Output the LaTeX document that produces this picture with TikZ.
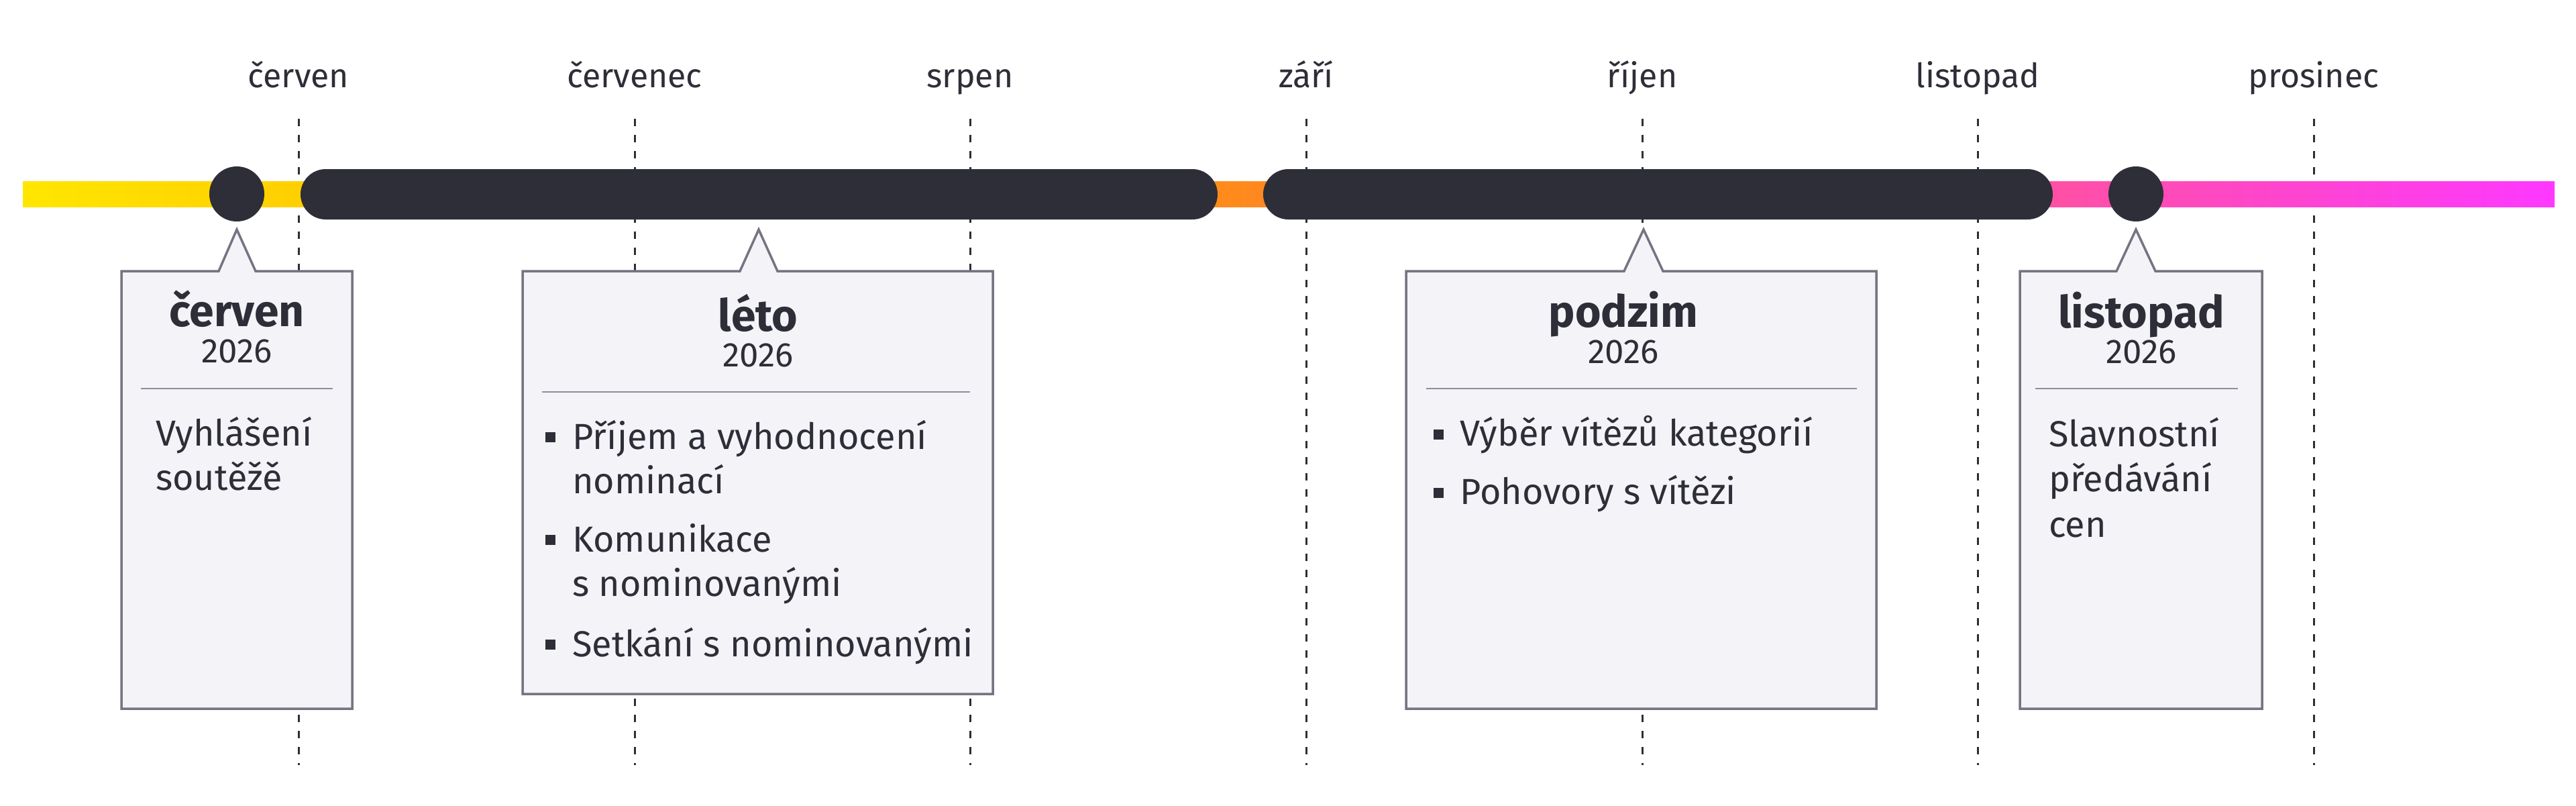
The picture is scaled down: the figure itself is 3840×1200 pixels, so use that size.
\documentclass[tikz,border=0pt]{standalone}
\usepackage{fontspec}
\setmainfont{Fira Sans}
\definecolor{ink}{HTML}{2E2E38}
\definecolor{boxfill}{HTML}{F4F4F8}
\definecolor{boxline}{HTML}{747482}
\definecolor{rulecol}{HTML}{8E8E9A}
\definecolor{gy}{HTML}{FFE600}
\definecolor{gy2}{HTML}{FFCF00}
\definecolor{go}{HTML}{FF8A1C}
\definecolor{gp}{HTML}{FF4FA8}
\definecolor{gm}{HTML}{FF38FF}
\pgfdeclarehorizontalshading{tlgrad}{100bp}{color(0bp)=(gy); color(25bp)=(gy); color(30.5bp)=(gy2); color(49bp)=(go); color(65.5bp)=(gp); color(75bp)=(gm); color(100bp)=(gm)}
\tikzset{
  monthlbl/.style={font=\fontsize{50}{60}\selectfont, text=ink, anchor=base, inner sep=0},
  gridline/.style={draw=ink, line width=3, dash pattern=on 11 off 13},
  phase/.style={fill=ink, rounded corners=37.5, inner sep=0, minimum height=75},
  dot/.style={circle, fill=ink, inner sep=0, minimum size=82},
  cbox/.style={fill=boxfill, draw=boxline, line width=3.5, line join=miter},
  divider/.style={draw=rulecol, line width=2},
  title/.style={font=\fontsize{66}{66}\selectfont\bfseries, text=ink, anchor=base, inner sep=0},
  year/.style={font=\fontsize{51}{51}\selectfont, text=ink, anchor=base, inner sep=0},
  body/.style={font=\fontsize{54}{66}\selectfont, text=ink, anchor=base west, inner sep=0},
  bullet/.style={rectangle, fill=ink, inner sep=0, minimum size=15},
}
\begin{document}
\begin{tikzpicture}[x=1pt,y=-1pt]
\useasboundingbox (0,0) rectangle (3840,1200);
% month labels and dashed grid lines
\foreach \i/\x/\m in {1/445/červen,2/946/červenec,3/1446/srpen,4/1947/září,5/2448/říjen,6/2948/listopad,7/3449/prosinec}{
  \node[monthlbl] (m\i) at (\x,130) {\m};
  \coordinate (gt\i) at (\x,177);
  \coordinate (gb\i) at (\x,1140);
  \draw[gridline] (gt\i) -- (gb\i);
}
% gradient axis
\coordinate (axL) at (34,270);
\coordinate (axR) at (3808,308);
\fill[shading=tlgrad] (axL) rectangle (axR);
% phases
\node[phase, minimum width=1367] (p1) at (1131.5,289.5) {};
\node[phase, minimum width=1177] (p2) at (2471.5,289.5) {};
% milestones
\node[dot] (e1) at (353,289) {};
\node[dot] (e2) at (3184,289) {};
% callout apexes
\coordinate (a1) at (353,342);
\coordinate (a2) at (1131,342);
\coordinate (a3) at (2450,342);
\coordinate (a4) at (3184,342);
% boxes
\filldraw[cbox] (181,1056) -- (181,404) -- (326,404) -- (a1) -- (381,404) -- (525,404) -- (525,1056) -- cycle;
\filldraw[cbox] (779,1034) -- (779,404) -- (1103,404) -- (a2) -- (1159,404) -- (1480,404) -- (1480,1034) -- cycle;
\filldraw[cbox] (2096,1056) -- (2096,404) -- (2421,404) -- (a3) -- (2479,404) -- (2797,404) -- (2797,1056) -- cycle;
\filldraw[cbox] (3011,1056) -- (3011,404) -- (3155,404) -- (a4) -- (3213,404) -- (3372,404) -- (3372,1056) -- cycle;
% box 1
\node[title] (t1) at (353,486) {červen};
\node[year] (y1) at (353,540) {2026};
\coordinate (r1a) at (210,579); \coordinate (r1b) at (496,579);
\draw[divider] (r1a) -- (r1b);
\node[body] (x1a) at (232,664) {Vyhlášení};
\node[body] (x1b) at (232,730) {soutěžě};
% box 2
\node[title] (t2) at (1130,493) {léto};
\node[year] (y2) at (1130,546) {2026};
\coordinate (r2a) at (808,584); \coordinate (r2b) at (1446,584);
\draw[divider] (r2a) -- (r2b);
\node[bullet] (u2a) at (820,651) {};
\node[bullet] (u2b) at (820,804) {};
\node[bullet] (u2c) at (820,960) {};
\node[body] (x2a) at (853,669) {Příjem a vyhodnocení};
\node[body] (x2b) at (853,735) {nominací};
\node[body] (x2c) at (853,822) {Komunikace};
\node[body] (x2d) at (853,888) {s nominovanými};
\node[body] (x2e) at (853,978) {Setkání s nominovanými};
% box 3
\node[title] (t3) at (2420,487) {podzim};
\node[year] (y3) at (2420,541) {2026};
\coordinate (r3a) at (2126,579); \coordinate (r3b) at (2768,579);
\draw[divider] (r3a) -- (r3b);
\node[bullet] (u3a) at (2144,647) {};
\node[bullet] (u3b) at (2144,734) {};
\node[body] (x3a) at (2176,664) {Výběr vítězů kategorií};
\node[body] (x3b) at (2176,751) {Pohovory s vítězi};
% box 4
\node[title] (t4) at (3192,488) {listopad};
\node[year] (y4) at (3192,541) {2026};
\coordinate (r4a) at (3034,579); \coordinate (r4b) at (3336,579);
\draw[divider] (r4a) -- (r4b);
\node[body] (x4a) at (3054,665) {Slavnostní};
\node[body] (x4b) at (3054,732) {předávání};
\node[body] (x4c) at (3054,800) {cen};
\end{tikzpicture}
\end{document}
